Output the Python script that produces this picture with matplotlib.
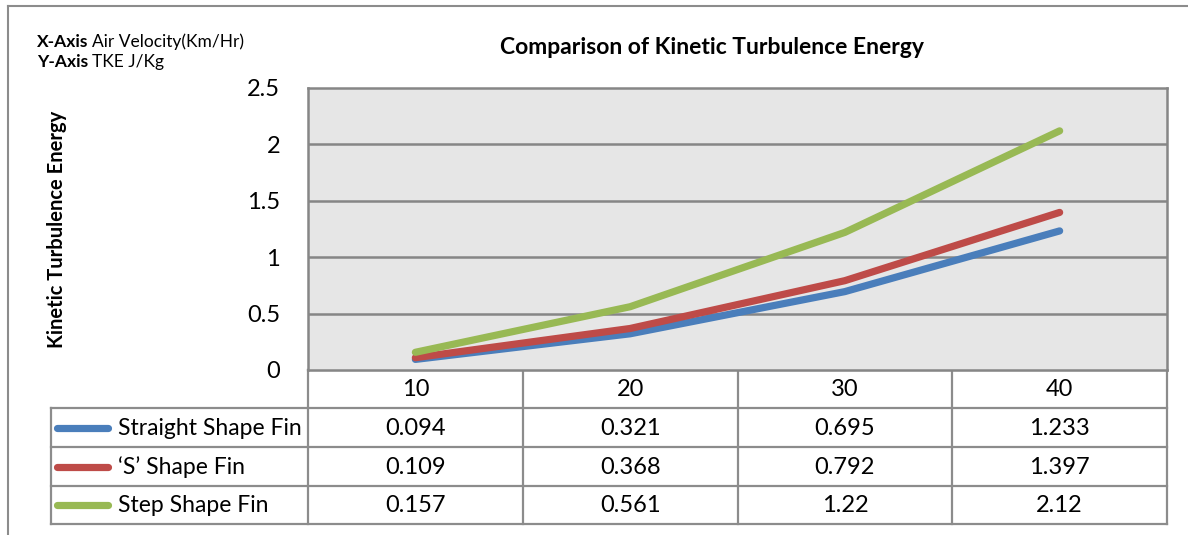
import matplotlib
matplotlib.use("Agg")
import matplotlib.pyplot as plt
from matplotlib.lines import Line2D
from matplotlib.transforms import offset_copy

# data
categories = [10, 20, 30, 40]
series_names = ["Straight Shape Fin", "\u2018S\u2019 Shape Fin", "Step Shape Fin"]
straight = [0.094, 0.321, 0.695, 1.233]
s_shape = [0.109, 0.368, 0.792, 1.397]
step = [0.157, 0.561, 1.22, 2.12]
value_labels = [
    ["0.094", "0.321", "0.695", "1.233"],
    ["0.109", "0.368", "0.792", "1.397"],
    ["0.157", "0.561", "1.22", "2.12"],
]
y_ticks = [0, 0.5, 1, 1.5, 2, 2.5]
y_tick_labels = ["0", "0.5", "1", "1.5", "2", "2.5"]

colors = ["#4a7ebb", "#be4b48", "#98b954"]
grid_col = "#868686"
FONT = "Lato"
NUM_FS = 17
NAME_FS = 16.5

W, H = 1188, 535
fig = plt.figure(figsize=(W / 100, H / 100), dpi=100)

# pixel layout
px_l, px_r, px_t, px_b = 308, 1167, 88, 370
row_edges = [370, 408, 447, 486, 524]
lab_l = 51


def fx(x):
    return x / W


def fy(y):
    return 1 - y / H


# overlay axes in pixel coordinates for table and frame
ov = fig.add_axes([0, 0, 1, 1])
ov.set_xlim(0, W)
ov.set_ylim(H, 0)
ov.axis("off")

# plot area
ax = fig.add_axes([fx(px_l), fy(px_b), fx(px_r - px_l), (px_b - px_t) / H])
ax.set_facecolor("#e6e6e6")
x = list(range(len(categories)))
for vals, c in zip([straight, s_shape, step], colors):
    ax.plot(x, vals, color=c, lw=5.2, solid_capstyle="round", zorder=3)
ax.set_xlim(-0.5, len(categories) - 0.5)
ax.set_ylim(0, 2.5)
ax.set_yticks(y_ticks)
ax.set_yticklabels(y_tick_labels, fontsize=NUM_FS, family=FONT)
ax.tick_params(axis="y", length=0, pad=20)
ax.set_xticks([])
for yv in y_ticks[1:-1]:
    ax.axhline(yv, color=grid_col, lw=1.8, zorder=1)
for s in ax.spines.values():
    s.set_color(grid_col)
    s.set_linewidth(1.8)

# table
ncol = len(categories)
col_w = (px_r - px_l) / ncol
col_edges = [px_l + i * col_w for i in range(ncol + 1)]
lk = dict(color="#8c8c8c", lw=1.6)
ov.plot([px_l, px_r], [row_edges[0], row_edges[0]], **lk)
for yv in row_edges[1:]:
    ov.plot([lab_l, px_r], [yv, yv], **lk)
for xv in col_edges:
    ov.plot([xv, xv], [row_edges[0], row_edges[-1]], **lk)
ov.plot([lab_l, lab_l], [row_edges[1], row_edges[-1]], **lk)

# header row
for i, cat in enumerate(categories):
    ov.text((col_edges[i] + col_edges[i + 1]) / 2, (row_edges[0] + row_edges[1]) / 2 + 1,
            str(cat), ha="center", va="center", fontsize=NUM_FS, family=FONT)
# data rows
for r, (name, c, labels) in enumerate(zip(series_names, colors, value_labels)):
    yc = (row_edges[r + 1] + row_edges[r + 2]) / 2
    ov.plot([57, 108], [yc, yc], color=c, lw=5.2, solid_capstyle="round")
    ov.text(118, yc + 1, name, ha="left", va="center", fontsize=NAME_FS, family=FONT)
    for i, lab in enumerate(labels):
        ov.text((col_edges[i] + col_edges[i + 1]) / 2, yc + 1, lab,
                ha="center", va="center", fontsize=NUM_FS, family=FONT)

# titles and annotations
ov.text(712, 47, "Comparison of Kinetic Turbulence Energy", ha="center", va="center",
        fontsize=16.5, fontweight="bold", family=FONT)
ov.text(57, 229, "Kinetic Turbulence Energy", ha="center", va="center", rotation=90,
        fontsize=14.5, fontweight="bold", family=FONT)

renderer = fig.canvas.get_renderer()
for yy, bold_part, rest in [(42, "X-Axis", "Air Velocity(Km/Hr)"), (62, "Y-Axis", "TKE J/Kg")]:
    t = ov.text(37, yy, bold_part, ha="left", va="center", fontsize=12.5,
                fontweight="bold", family=FONT)
    w = t.get_window_extent(renderer).width
    tr = offset_copy(ov.transData, fig=fig, x=w + 4, y=0, units="dots")
    ov.text(37, yy, rest, ha="left", va="center", fontsize=12.5, family=FONT, transform=tr)

# outer chart frame (top and left edges visible)
fig.add_artist(Line2D([fx(8), 1], [fy(6), fy(6)], color="#8c8c8c", lw=1.5))
fig.add_artist(Line2D([fx(8), fx(8)], [fy(6), 0], color="#8c8c8c", lw=1.5))

fig.savefig("out.png", dpi=100)
